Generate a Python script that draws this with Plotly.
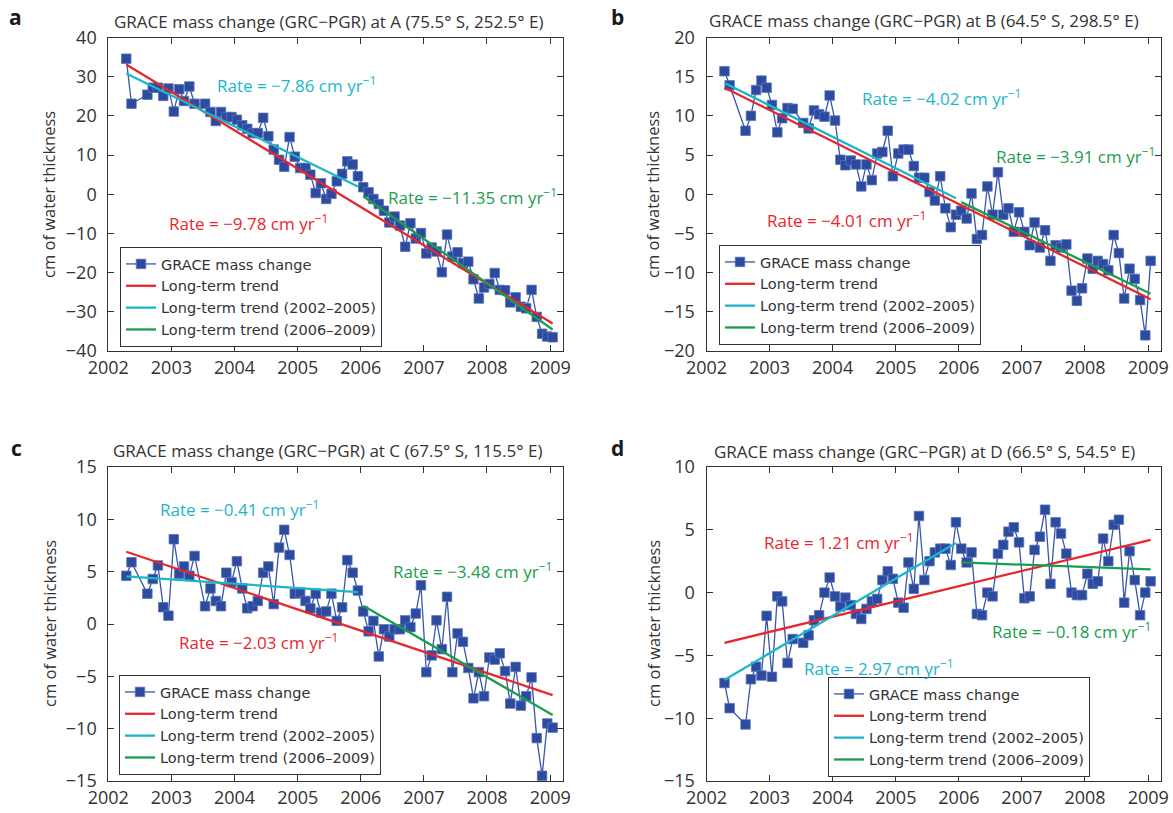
import plotly.graph_objects as go

# ---------------- data ----------------
dates = [
    "2002-04-15", "2002-05-15", "2002-08-15", "2002-09-15", "2002-10-15", "2002-11-15", "2002-12-15",
    "2003-01-15", "2003-02-15", "2003-03-15", "2003-04-15", "2003-05-15", "2003-07-15", "2003-08-15",
    "2003-09-15", "2003-10-15", "2003-11-15", "2003-12-15",
    "2004-01-15", "2004-02-15", "2004-03-15", "2004-04-15", "2004-05-15", "2004-06-15",
    "2004-07-15", "2004-08-15", "2004-09-15", "2004-10-15", "2004-11-15", "2004-12-15",
    "2005-01-15", "2005-02-15", "2005-03-15", "2005-04-15", "2005-05-15", "2005-06-15",
    "2005-07-15", "2005-08-15", "2005-09-15", "2005-10-15", "2005-11-15", "2005-12-15",
    "2006-01-15", "2006-02-15", "2006-03-15", "2006-04-15", "2006-05-15", "2006-06-15",
    "2006-07-15", "2006-08-15", "2006-09-15", "2006-10-15", "2006-11-15", "2006-12-15",
    "2007-01-15", "2007-02-15", "2007-03-15", "2007-04-15", "2007-05-15", "2007-06-15",
    "2007-07-15", "2007-08-15", "2007-09-15", "2007-10-15", "2007-11-15", "2007-12-15",
    "2008-01-15", "2008-02-15", "2008-03-15", "2008-04-15", "2008-05-15", "2008-06-15",
    "2008-07-15", "2008-08-15", "2008-09-15", "2008-10-15", "2008-11-15", "2008-12-15",
    "2009-01-15",
]

grace_a = [34.6, 23.1, 25.4, 27.2, 27.2, 25.1, 27.0,
           21.1, 26.8, 23.8, 27.5, 23.1, 23.1, 21.0, 18.7, 21.0, 19.7, 19.7,
           19.0, 17.6, 16.7, 15.6, 15.6, 19.5, 14.8, 11.4, 8.8, 7.0, 14.6, 9.6,
           6.7, 6.7, 5.0, 0.3, 2.8, -1.2, 0.1, 3.3, 5.2, 8.4, 7.6, 4.6,
           1.8, 0.5, -1.2, -2.5, -4.2, -7.2, -5.7, -8.0, -13.4, -7.4, -11.3, -9.9,
           -15.1, -13.6, -14.6, -19.9, -10.3, -15.9, -14.8, -17.6, -17.2, -21.7, -26.6, -23.8,
           -22.9, -20.1, -24.4, -24.5, -27.6, -26.3, -28.7, -29.1, -24.4, -31.3, -35.6, -36.3,
           -36.5]

grace_b = [15.7, 13.9, 8.1, 10.0, 13.3, 14.5, 13.6,
           11.4, 7.9, 9.7, 11.0, 10.9, 9.1, 8.4, 10.7, 10.2, 9.9, 12.6,
           9.4, 4.4, 3.7, 4.3, 3.8, 1.0, 3.8, 1.8, 5.2, 5.4, 8.1, 2.3,
           5.2, 5.7, 5.7, 3.6, 2.1, 2.1, 0.3, -0.8, 2.3, -1.8, -4.2, -2.6,
           -2.1, -3.1, 0.1, -5.7, -5.2, 1.0, -2.6, 2.8, -2.6, -1.8, -4.8, -2.3,
           -4.8, -6.5, -3.6, -6.8, -4.6, -8.5, -6.5, -6.8, -6.4, -12.3, -13.6, -12.0,
           -8.2, -9.5, -8.5, -8.9, -9.7, -5.2, -7.5, -13.3, -9.5, -10.8, -13.5, -18.0,
           -8.5]

grace_c = [4.6, 5.9, 2.9, 4.3, 5.6, 1.6, 0.8,
           8.1, 4.8, 5.5, 4.6, 6.5, 1.7, 3.4, 2.2, 1.7, 4.9, 4.0,
           6.0, 3.4, 1.5, 1.7, 2.2, 4.9, 5.5, 1.9, 7.3, 9.0, 6.6, 2.9,
           3.0, 2.2, 1.5, 2.9, 1.1, 1.2, 2.9, 0.3, 1.6, 6.1, 4.9, 3.2,
           1.2, -0.7, 0.3, -3.1, -0.5, -1.2, -0.5, -0.5, 0.35, -0.3, 1.0, 3.7,
           -4.6, -3.0, 0.35, -2.4, 2.6, -4.6, -0.9, -1.7, -4.2, -7.1, -4.6, -6.9,
           -3.2, -3.4, -2.8, -4.5, -7.6, -4.1, -7.8, -6.9, -5.1, -10.9, -14.5, -9.5,
           -9.9]

grace_d = [-7.2, -9.2, -10.5, -6.9, -5.9, -6.6, -1.85,
           -6.7, -0.3, -0.7, -5.6, -3.7, -4.0, -3.4, -2.2, -1.8, 0.0, 1.2,
           -0.3, -1.1, -0.4, -1.0, -1.7, -2.1, -1.3, -0.7, -0.5, 1.0, 1.7, 1.1,
           -0.8, -1.2, 2.4, 0.3, 6.1, 1.0, 2.5, 3.2, 3.5, 3.5, 2.2, 5.6,
           3.5, 2.4, 3.2, -1.7, -1.8, 0.0, -0.3, 3.1, 3.8, 4.85, 5.2, 4.0,
           -0.45, -0.3, 3.4, 4.45, 6.6, 0.7, 5.6, 4.7, 3.1, 0.0, -0.2, -0.2,
           1.5, 0.7, 0.9, 4.3, 2.5, 5.4, 5.8, -0.8, 3.3, 1.0, -1.8, 0.0,
           0.9]

# trend line end points (x dates, y values)
trend_all_x = ["2002-04-15", "2009-01-15"]
trend_early_x = ["2002-04-15", "2005-12-15"]
trend_late_x = ["2006-01-15", "2009-01-15"]

trend_all_a, trend_early_a, trend_late_a = [33.1, -33.0], [30.8, 2.0], [-0.5, -34.5]
trend_all_b, trend_early_b, trend_late_b = [13.6, -13.4], [14.2, -0.5], [-1.0, -12.7]
trend_all_c, trend_early_c, trend_late_c = [6.9, -6.8], [4.55, 3.05], [1.75, -8.7]
trend_all_d, trend_early_d, trend_late_d = [-4.0, 4.2], [-6.95, 3.95], [2.4, 1.85]

# rates: long-term, 2002-2005, 2006-2009
rates_a = ["−9.78", "−7.86", "−11.35"]
rates_b = ["−4.01", "−4.02", "−3.91"]
rates_c = ["−2.03", "−0.41", "−3.48"]
rates_d = ["1.21", "2.97", "−0.18"]

titles = [
    "GRACE mass change (GRC−PGR) at A (75.5° S, 252.5° E)",
    "GRACE mass change (GRC−PGR) at B (64.5° S, 298.5° E)",
    "GRACE mass change (GRC−PGR) at C (67.5° S, 115.5° E)",
    "GRACE mass change (GRC−PGR) at D (66.5° S, 54.5° E)",
]
letters = ["a", "b", "c", "d"]
yranges = [[-40, 40], [-20, 20], [-15, 15], [-15, 10]]
ydticks = [10, 5, 5, 5]

series_names = ["GRACE mass change", "Long-term trend",
                "Long-term trend (2002–2005)", "Long-term trend (2006–2009)"]

# ---------------- style ----------------
W, H = 1173, 813
BLUE = "#2c4b9f"
BLUE_LINE = "#3856ab"
RED = "#e8262d"
CYAN = "#1cb5c9"
GREEN = "#1a9d4e"
AX = "#333333"
FONT = "Open Sans"
LEGEND_FONT = "DejaVu Sans"

def px_x(v):
    return v / W

def px_y(v):
    return 1 - v / H

left_dom = [px_x(108.3), px_x(563)]
right_dom = [px_x(706.5), px_x(1161)]
top_dom = [px_y(351), px_y(37.5)]
bot_dom = [px_y(781), px_y(467)]

panels = [
    dict(vals=grace_a, ta=trend_all_a, te=trend_early_a, tl=trend_late_a, rates=rates_a,
         xd=left_dom, yd=top_dom,
         rate_pos=[("2002-12-06", -7.3), ("2003-09-10", 28.0), ("2006-05-27", -0.6)],
         legend_xy=(120, 347), title_xy=(112, 22), letter_xy=(15, 17), ytitle_xy=(49, 195)),
    dict(vals=grace_b, ta=trend_all_b, te=trend_early_b, tl=trend_late_b, rates=rates_b,
         xd=right_dom, yd=top_dom,
         rate_pos=[("2002-12-05", -3.2), ("2004-06-07", 12.3), ("2006-07-23", 4.9)],
         legend_xy=(719, 345), title_xy=(707, 20), letter_xy=(617, 17), ytitle_xy=(653, 195)),
    dict(vals=grace_c, ta=trend_all_c, te=trend_early_c, tl=trend_late_c, rates=rates_c,
         xd=left_dom, yd=bot_dom,
         rate_pos=[("2003-02-02", -1.7), ("2002-10-15", 11.0), ("2006-06-25", 5.1)],
         legend_xy=(119, 775), title_xy=(111, 450), letter_xy=(16, 448), ytitle_xy=(49, 624)),
    dict(vals=grace_d, ta=trend_all_d, te=trend_early_d, tl=trend_late_d, rates=rates_d,
         xd=right_dom, yd=bot_dom,
         rate_pos=[("2002-11-18", 4.05), ("2003-07-07", -6.0), ("2006-06-30", -3.05)],
         legend_xy=(828, 777), title_xy=(712, 451), letter_xy=(617, 448), ytitle_xy=(653, 624)),
]

fig = go.Figure()
annotations = []
layout_axes = {}

for i, p in enumerate(panels):
    n = i + 1
    xa = "x" if n == 1 else f"x{n}"
    ya = "y" if n == 1 else f"y{n}"
    lg = "legend" if n == 1 else f"legend{n}"

    fig.add_trace(go.Scatter(
        x=dates, y=p["vals"], xaxis=xa, yaxis=ya, legend=lg, name=series_names[0],
        mode="lines+markers",
        line=dict(color=BLUE_LINE, width=1.3),
        marker=dict(symbol="square", size=9.5, color=BLUE, line=dict(color="#5a74bb", width=0.8)),
    ))
    for tx, ty, col, nm in [(trend_all_x, p["ta"], RED, series_names[1]),
                            (trend_early_x, p["te"], CYAN, series_names[2]),
                            (trend_late_x, p["tl"], GREEN, series_names[3])]:
        fig.add_trace(go.Scatter(
            x=tx, y=ty, xaxis=xa, yaxis=ya, legend=lg, name=nm, mode="lines",
            line=dict(color=col, width=2.3),
        ))

    axis_common = dict(showline=True, linecolor=AX, linewidth=1, mirror="ticks",
                       ticks="inside", ticklen=6, tickcolor=AX, tickwidth=1,
                       showgrid=False, zeroline=False, automargin=False,
                       tickfont=dict(family=FONT, size=18, color=AX))
    layout_axes["xaxis" if n == 1 else f"xaxis{n}"] = dict(
        axis_common, type="date", domain=p["xd"], anchor=ya,
        range=["2002-01-01", "2009-03-16"], tick0="2002-01-01", dtick="M12",
        tickformat="%Y")
    layout_axes["yaxis" if n == 1 else f"yaxis{n}"] = dict(
        axis_common, domain=p["yd"], anchor=xa, range=yranges[i], dtick=ydticks[i],
        ticklabelstandoff=7)

    lx, ly = p["legend_xy"]
    layout_axes[lg] = dict(
        x=px_x(lx), y=px_y(ly), xanchor="left", yanchor="bottom",
        bgcolor="white", bordercolor=AX, borderwidth=1,
        font=dict(family=LEGEND_FONT, size=14.5, color=AX), itemwidth=30,
        tracegroupgap=0, traceorder="normal",
    )

    for (rx, ry), col, rt in zip(p["rate_pos"], [RED, CYAN, GREEN], p["rates"]):
        annotations.append(dict(
            x=rx, y=ry, xref=xa, yref=ya, xanchor="left", yanchor="middle",
            text=f"Rate = {rt} cm yr<sup>−1</sup>", showarrow=False,
            font=dict(family=FONT, size=17, color=col)))

    tx, ty = p["title_xy"]
    annotations.append(dict(x=px_x(tx), y=px_y(ty), xref="paper", yref="paper",
                            xanchor="left", yanchor="middle", text=titles[i], showarrow=False,
                            font=dict(family=FONT, size=17, color=AX)))
    lx2, ly2 = p["letter_xy"]
    annotations.append(dict(x=px_x(lx2), y=px_y(ly2), xref="paper", yref="paper",
                            xanchor="center", yanchor="middle", text=f"<b>{letters[i]}</b>",
                            showarrow=False, font=dict(family=FONT, size=21, color="#1a1a1a")))
    yx, yy = p["ytitle_xy"]
    annotations.append(dict(x=px_x(yx), y=px_y(yy), xref="paper", yref="paper",
                            xanchor="center", yanchor="middle", text="cm of water thickness",
                            textangle=-90, showarrow=False,
                            font=dict(family=FONT, size=16.5, color=AX)))

fig.update_layout(
    width=W, height=H, margin=dict(l=0, r=0, t=0, b=0, autoexpand=False),
    paper_bgcolor="white", plot_bgcolor="white",
    font=dict(family=FONT, color=AX),
    annotations=annotations, showlegend=True,
    **layout_axes,
)

fig.write_html("out.html", config={"displayModeBar": False},
               post_script="document.body.style.margin='0';document.body.style.overflow='hidden';")
